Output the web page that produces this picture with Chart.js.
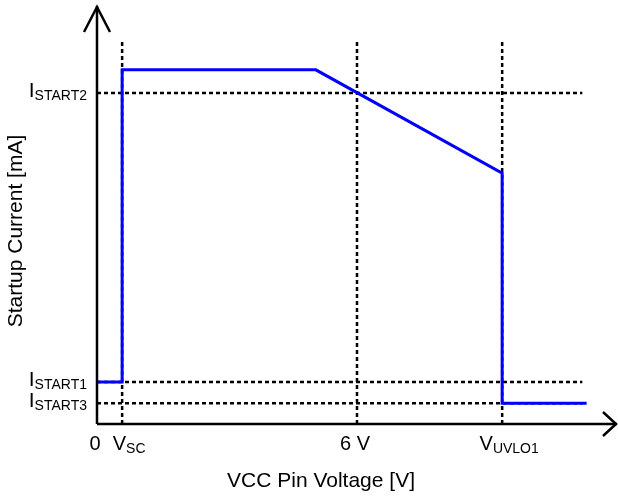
<!DOCTYPE html>
<html><head><meta charset="utf-8">
<script src="https://cdn.jsdelivr.net/npm/chart.js@4/dist/chart.umd.min.js"></script>
<style>html,body{margin:0;padding:0;background:#fff}canvas{display:block}</style>
</head><body>
<canvas id="c" width="618" height="497"></canvas>
<script>
// ---- data (arbitrary schematic units) ----
const xTickValues = [0, 0.58, 6, 9.35];
const xTickMain   = ['0', 'V', '6 V', 'V'];
const xTickSub    = ['', 'SC', '', 'UVLO1'];
const yTickValues = [10, 1.27, 0.63];
const yTickMain   = ['I', 'I', 'I'];
const yTickSub    = ['START2', 'START1', 'START3'];
const curveX = [0, 0.58, 0.58, 5.05, 9.35, 9.35, 11.3];
const curveY = [1.27, 1.27, 10.7, 10.7, 7.58, 0.63, 0.63];
const guideTopY = 11.6;
const guideEndX = 11.2;
const xMax = 12;
const yMax = 12.63;
const xTitle = 'VCC Pin Voltage [V]';
const yTitle = 'Startup Current [mA]';

// ---- build datasets ----
const FONT = '"Liberation Sans", Arial, sans-serif';
const datasets = [];
yTickValues.forEach(v => datasets.push({
  data: [{x: 0, y: v}, {x: guideEndX, y: v}],
  borderColor: '#000', borderWidth: 2.5, borderDash: [4, 3], pointRadius: 0, clip: false, order: 3
}));
xTickValues.slice(1).forEach(v => datasets.push({
  data: [{x: v, y: 0}, {x: v, y: guideTopY}],
  borderColor: '#000', borderWidth: 2.5, borderDash: [4, 3], pointRadius: 0, clip: false, order: 3
}));
datasets.push({
  data: curveX.map((x, i) => ({x, y: curveY[i]})),
  borderColor: '#0000ff', borderWidth: 3, pointRadius: 0, clip: false, order: 1, tension: 0
});
// axes lines
datasets.push({ data: [{x: 0, y: 0}, {x: xMax, y: 0}], borderColor: '#000', borderWidth: 2.5, pointRadius: 0, clip: false, order: 0 });
datasets.push({ data: [{x: 0, y: 0}, {x: 0, y: yMax}], borderColor: '#000', borderWidth: 2.5, pointRadius: 0, clip: false, order: 0 });

const decor = {
  id: 'decor',
  afterDraw(chart) {
    const ctx = chart.ctx, xs = chart.scales.x, ys = chart.scales.y;
    ctx.save();
    ctx.strokeStyle = '#000'; ctx.lineWidth = 2.5; ctx.lineCap = 'butt'; ctx.lineJoin = 'miter';
    // x arrow
    const xt = xs.getPixelForValue(xMax), y0 = ys.getPixelForValue(0);
    ctx.beginPath(); ctx.moveTo(xt - 14, y0 - 12); ctx.lineTo(xt - 1, y0); ctx.lineTo(xt - 14, y0 + 12); ctx.stroke();
    // y arrow
    const x0 = xs.getPixelForValue(0), yt = ys.getPixelForValue(yMax);
    ctx.beginPath(); ctx.moveTo(x0 - 13, yt + 26); ctx.lineTo(x0, yt + 1); ctx.lineTo(x0 + 13, yt + 26); ctx.stroke();

    ctx.fillStyle = '#000';
    ctx.textBaseline = 'alphabetic';
    // y tick labels
    yTickValues.forEach((v, i) => {
      const py = ys.getPixelForValue(v);
      ctx.font = '14px ' + FONT;
      const sw = ctx.measureText(yTickSub[i]).width;
      ctx.font = '21px ' + FONT;
      const mw = ctx.measureText(yTickMain[i]).width;
      const right = x0 - 10;
      ctx.textAlign = 'left';
      ctx.fillText(yTickMain[i], right - sw - mw, py + 4);
      ctx.font = '14px ' + FONT;
      ctx.fillText(yTickSub[i], right - sw, py + 7);
    });
    // x tick labels
    xTickValues.forEach((v, i) => {
      const px = xs.getPixelForValue(v);
      ctx.font = '20px ' + FONT;
      const mw = ctx.measureText(xTickMain[i]).width;
      ctx.font = '14px ' + FONT;
      const sw = xTickSub[i] ? ctx.measureText(xTickSub[i]).width : 0;
      const shift = xTickSub[i] ? 7 : -2;
      const left = px + shift - (mw + sw) / 2;
      ctx.textAlign = 'left';
      ctx.font = '20px ' + FONT;
      ctx.fillText(xTickMain[i], left, y0 + 26);
      if (xTickSub[i]) { ctx.font = '14px ' + FONT; ctx.fillText(xTickSub[i], left + mw, y0 + 29); }
    });
    // titles
    ctx.font = '21px ' + FONT;
    ctx.textAlign = 'center';
    ctx.fillText(xTitle, 321, y0 + 63);
    ctx.save();
    ctx.translate(22, 231);
    ctx.rotate(-Math.PI / 2);
    ctx.fillText(yTitle, 0, 0);
    ctx.restore();
    ctx.restore();
  }
};

new Chart(document.getElementById('c'), {
  type: 'line',
  data: { datasets },
  options: {
    responsive: false,
    devicePixelRatio: 1,
    animation: false,
    events: [],
    layout: { padding: { left: 97, right: 1, top: 6, bottom: 73 } },
    plugins: { legend: { display: false }, tooltip: { enabled: false } },
    scales: {
      x: { type: 'linear', min: 0, max: xMax, display: false },
      y: { type: 'linear', min: 0, max: yMax, display: false }
    }
  },
  plugins: [decor]
});
</script>
</body></html>
